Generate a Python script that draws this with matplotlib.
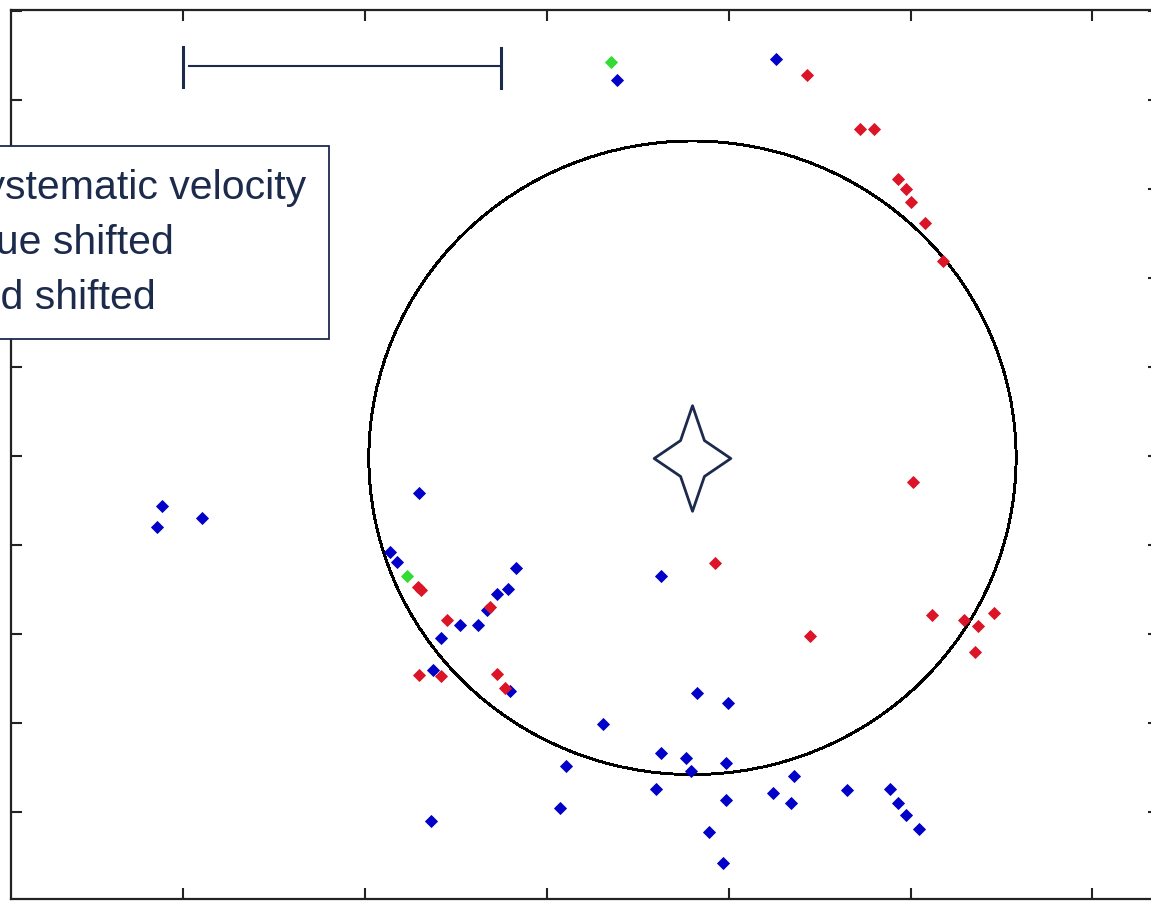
import numpy as np
import matplotlib
matplotlib.use("Agg")
import matplotlib.pyplot as plt
from matplotlib.patches import Circle
from matplotlib.path import Path

# Source positions (offsets, arbitrary units)
green_x = [0.352, -0.770]
green_y = [2.213, -0.674]

blue_x = [0.385, 1.260, -2.118, -2.145, -1.898, -0.704, -0.864, -0.825, -0.171, -0.215,
          -0.275, -0.330, -0.380, -0.479, -0.583, -0.627, -0.204, 0.627, 0.825, 0.996,
          0.308, 0.627, 0.765, 0.792, 0.985, 0.105, 0.600, 0.985, 0.072, -0.638,
          0.891, 0.968, 1.359, 1.243, 1.342, 1.650, 1.887, 1.931, 1.975, 2.046]
blue_y = [2.112, 2.230, -0.281, -0.399, -0.348, -0.208, -0.539, -0.596, -0.629, -0.747,
          -0.775, -0.865, -0.949, -0.949, -1.022, -1.202, -1.320, -0.674, -1.331, -1.388,
          -1.506, -1.669, -1.697, -1.770, -1.725, -1.742, -1.871, -1.933, -1.978, -2.051,
          -2.112, -2.287, -1.798, -1.893, -1.949, -1.876, -1.871, -1.949, -2.017, -2.096]

red_x = [1.430, 1.722, 1.799, 1.931, 1.975, 2.002, 2.079, 2.178, 2.013, 0.924,
         1.447, 2.118, 2.294, 2.371, 2.459, 2.354, -0.710, -0.693, -0.314, -0.550,
         -0.704, -0.583, -0.275, -0.231]
red_y = [2.140, 1.837, 1.837, 1.556, 1.500, 1.427, 1.309, 1.096, -0.146, -0.601,
         -1.011, -0.893, -0.921, -0.955, -0.882, -1.101, -0.736, -0.753, -0.848, -0.921,
         -1.230, -1.236, -1.225, -1.303]

labels = ["systematic velocity", "blue shifted", "red shifted"]

# central star and the circle around it
star_x, star_y = 0.80, -0.01
circle_r = 1.78

# scale bar
bar_x0, bar_x1, bar_y = -2.0, -0.253, 2.191

navy = "#1c2a4c"
c_blue, c_red, c_green = "#0000c8", "#dc1428", "#32dc32"

plt.rcParams['font.family'] = ['Liberation Sans', 'DejaVu Sans']

fig = plt.figure(figsize=(11.51, 9.01), dpi=100)
# axes runs a bit past the right edge of the picture
ax = fig.add_axes([11 / 1151, 2 / 901, 1148 / 1151, 889 / 901])
ax.set_xlim(-2.948, 3.366)
ax.set_ylim(-2.489, 2.506)

ax.add_patch(Circle((star_x, star_y), circle_r, fill=False, ec="black", lw=1.4, antialiased=False))

# four pointed star marker
star_verts = [(0, 53), (12, 18), (38.5, 0), (12, -18), (0, -53), (-12, -18), (-38.5, 0), (-12, 18), (0, 53)]
star_path = Path(star_verts, [Path.MOVETO] + [Path.LINETO] * 7 + [Path.CLOSEPOLY])
ax.plot([star_x], [star_y], marker=star_path, ms=76, mfc="white", mec=navy, mew=2.0, ls="none", zorder=4)

mk = dict(marker="D", ms=6.6, mew=0.6, ls="none", zorder=3)
h_b, = ax.plot(blue_x, blue_y, color=c_blue, mec=c_blue, **mk)
h_r, = ax.plot(red_x, red_y, color=c_red, mec=c_red, **mk)
h_g, = ax.plot(green_x, green_y, color=c_green, mec=c_green, **mk)

# scale bar at top left
ax.plot([bar_x0 + 0.031, bar_x1], [bar_y, bar_y], color=navy, lw=1.5)
ax.plot([bar_x0, bar_x0], [bar_y - 0.118, bar_y + 0.107], color=navy, lw=2.2)
ax.plot([bar_x1, bar_x1], [bar_y - 0.124, bar_y + 0.101], color=navy, lw=2.2)

ax.xaxis.set_major_locator(plt.MultipleLocator(1.0))
ax.yaxis.set_major_locator(plt.MultipleLocator(0.5))
ax.tick_params(direction="in", length=8, width=1.5, top=True, right=True,
               labelbottom=False, labelleft=False, colors="#222222")
for s in ax.spines.values():
    s.set_linewidth(1.6)
    s.set_color("#222222")

leg = ax.legend([h_g, h_b, h_r], labels, loc="upper right",
                bbox_to_anchor=(329 / 1151, 1 - 146 / 901), bbox_transform=fig.transFigure,
                borderaxespad=0, fontsize=29.5, labelcolor=navy, fancybox=False,
                borderpad=0.55, labelspacing=0.42, framealpha=1)
leg.get_frame().set_edgecolor(navy)
leg.get_frame().set_linewidth(1.3)

fig.savefig("out.png", dpi=100, facecolor="white")
